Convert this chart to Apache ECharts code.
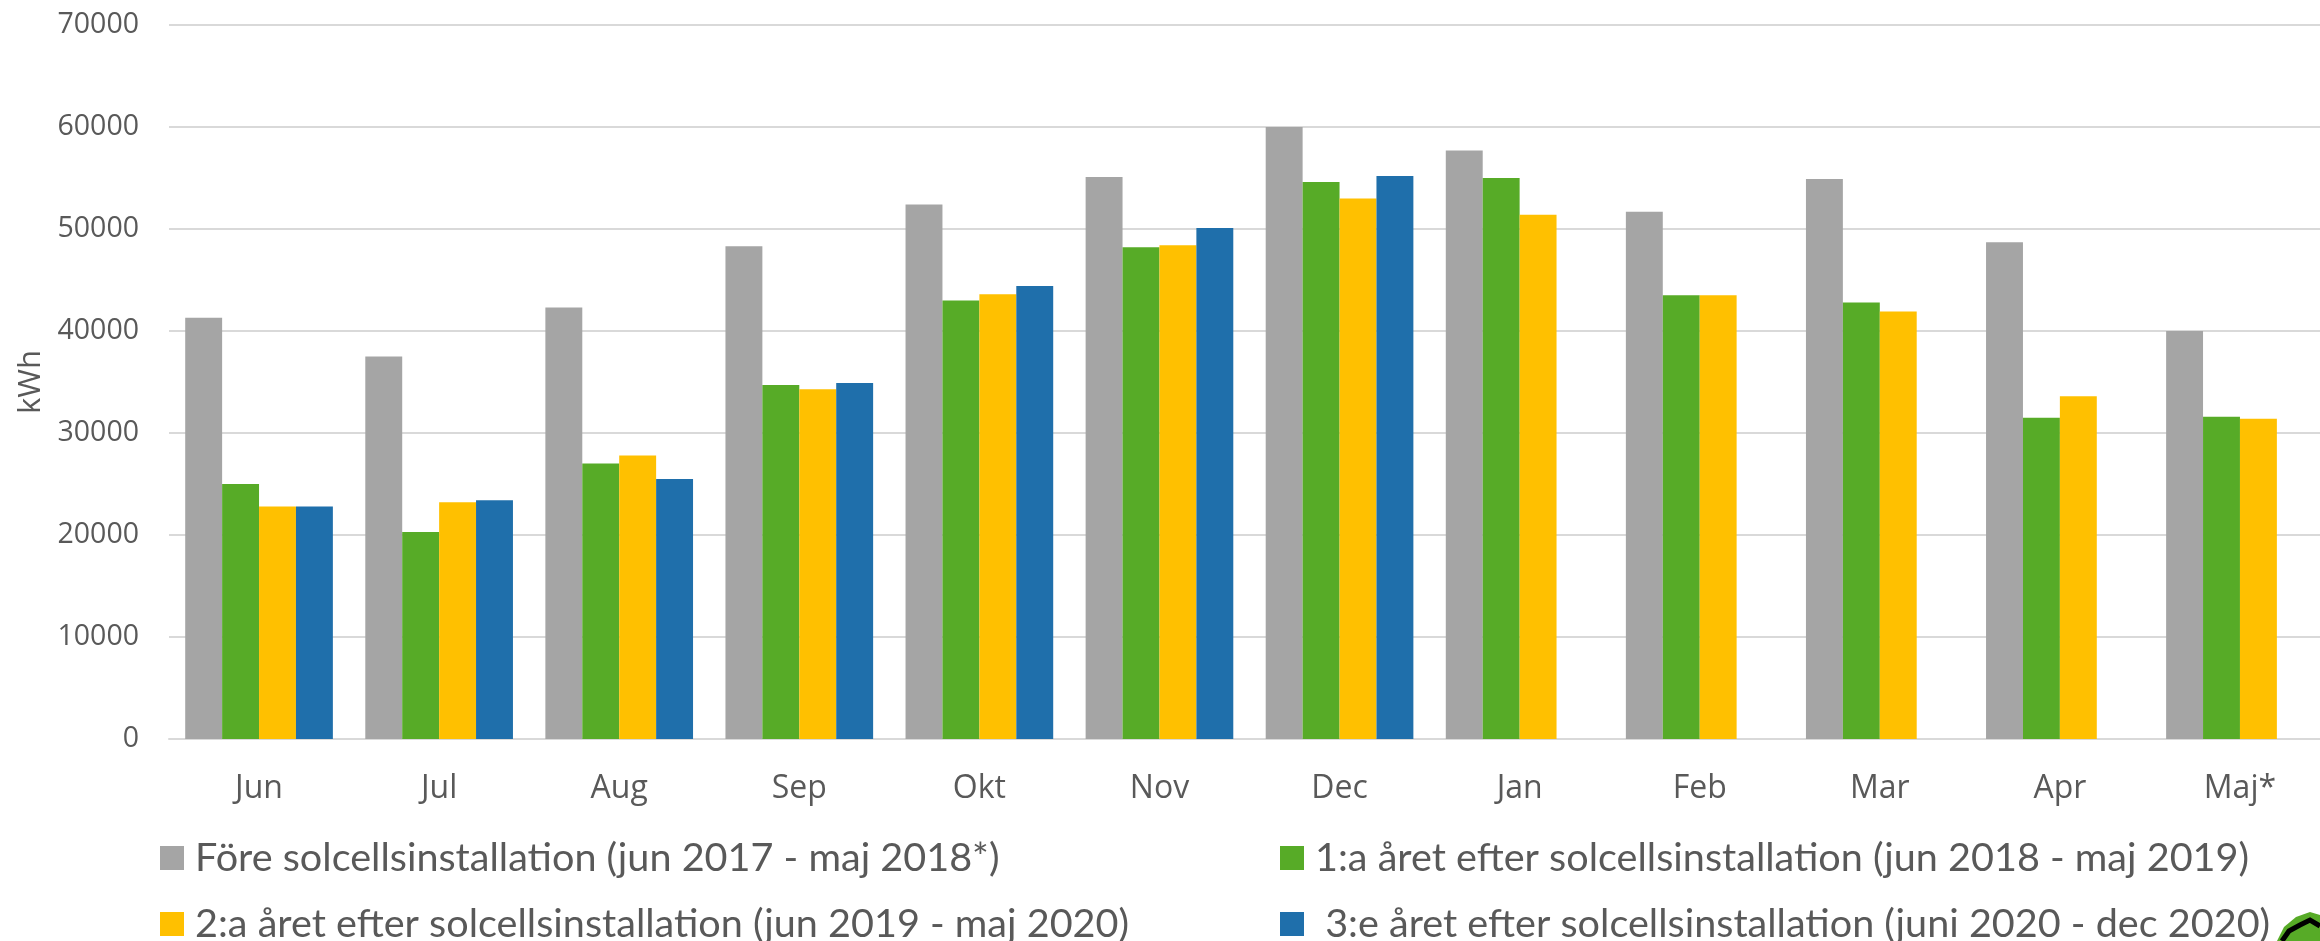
<!DOCTYPE html>
<html>
<head>
<meta charset="utf-8">
<title>kWh per månad</title>
<style>
  html, body { margin: 0; padding: 0; background: #fff; overflow: hidden; width: 2320px; height: 941px; }
  /* wider than the window: the source picture is cropped on the right */
  #chart { width: 2340px; height: 941px; }
</style>
<script src="https://cdn.jsdelivr.net/npm/echarts@6/dist/echarts.min.js"></script>
</head>
<body>
<div id="chart"></div>
<script>
const months = ['Jun', 'Jul', 'Aug', 'Sep', 'Okt', 'Nov', 'Dec', 'Jan', 'Feb', 'Mar', 'Apr', 'Maj*'];
const seriesNames = [
  'Före solcellsinstallation (jun 2017 - maj 2018*)',
  '1:a året efter solcellsinstallation (jun 2018 - maj 2019)',
  '2:a året efter solcellsinstallation (jun 2019 - maj 2020)',
  ' 3:e året efter solcellsinstallation (juni 2020 - dec 2020)'
];
const fore = [41300, 37500, 42300, 48300, 52400, 55100, 60000, 57700, 51700, 54900, 48700, 40000];
const year1 = [25000, 20300, 27000, 34700, 43000, 48200, 54600, 55000, 43500, 42800, 31500, 31600];
const year2 = [22800, 23200, 27800, 34300, 43600, 48400, 53000, 51400, 43500, 41900, 33600, 31400];
const year3 = [22800, 23400, 25500, 34900, 44400, 50100, 55200, null, null, null, null, null];

const colors = ['#a5a5a5', '#57ab27', '#ffc000', '#1f6fab'];
const textColor = '#595959';
const legendPos = [[160, 838], [1280, 838], [160, 904], [1280, 904]];

const chart = echarts.init(document.getElementById('chart'), null, { renderer: 'canvas' });

// one legend per entry, the two columns do not line up otherwise
const legends = seriesNames.map((name, i) => ({
  data: [name],
  left: legendPos[i][0],
  top: legendPos[i][1],
  orient: 'horizontal',
  icon: 'rect',
  itemWidth: 24,
  itemHeight: 24,
  itemGap: 0,
  padding: 0,
  selectedMode: false,
  textStyle: { color: textColor, fontFamily: 'Lato', fontSize: 39.6, padding: [0, 0, 0, 6] }
}));

chart.setOption({
  animation: false,
  backgroundColor: '#fff',
  color: colors,
  grid: { left: 169, top: 25, width: 2161, height: 714, containLabel: false },
  legend: legends,
  xAxis: {
    type: 'category',
    data: months,
    axisLine: { show: true, lineStyle: { color: '#d9d9d9', width: 2 } },
    axisTick: { show: false },
    axisLabel: { interval: 0, color: textColor, fontFamily: 'Open Sans', fontSize: 32, margin: 34 }
  },
  yAxis: {
    type: 'value',
    min: 0,
    max: 70000,
    interval: 10000,
    name: 'kWh',
    nameLocation: 'middle',
    nameRotate: 90,
    nameGap: 122,
    nameTextStyle: { color: textColor, fontFamily: 'Open Sans', fontSize: 31 },
    axisLine: { show: false },
    axisTick: { show: false },
    axisLabel: { color: textColor, fontFamily: 'Open Sans', fontSize: 28.5, margin: 30, formatter: v => String(v) },
    splitLine: { show: true, lineStyle: { color: '#d9d9d9', width: 2 } }
  },
  series: [fore, year1, year2, year3].map((values, i) => ({
    name: seriesNames[i],
    type: 'bar',
    data: values,
    barGap: 0,
    barCategoryGap: '18%'
  })),
  graphic: [
    // logo corner, cut off by the picture edge
    { type: 'polygon', shape: { points: [[2277, 941], [2284, 927], [2296, 917], [2310, 912], [2320, 915], [2320, 941]] }, style: { fill: '#57ab27' } },
    { type: 'polyline', shape: { points: [[2282, 941], [2289, 931], [2300, 925], [2310, 920], [2320, 926]] }, style: { stroke: '#000', lineWidth: 5, fill: 'none' } }
  ]
});
</script>
</body>
</html>
